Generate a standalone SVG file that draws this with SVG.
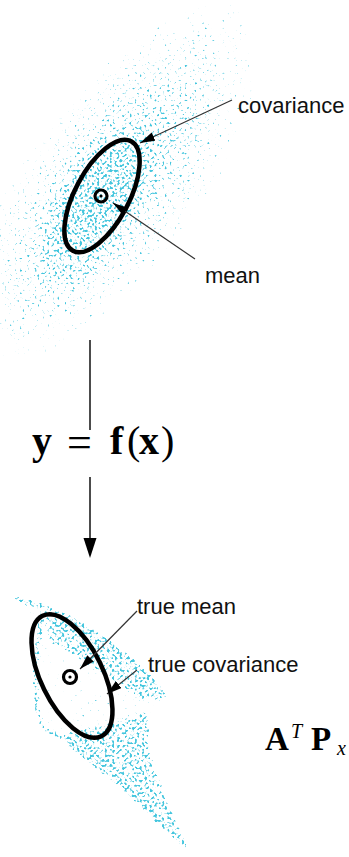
<svg xmlns="http://www.w3.org/2000/svg" width="349" height="857" viewBox="0 0 349 857">
  <defs>
    <style>
      .lbl{font-family:"Liberation Sans",Arial,sans-serif;font-size:22px;fill:#111}
      .mb{font-family:"Liberation Serif","Times New Roman",serif;font-weight:bold;fill:#000}
      .mr{font-family:"Liberation Serif","Times New Roman",serif;fill:#000}
      .mi{font-family:"Liberation Serif","Times New Roman",serif;font-style:italic;fill:#000}
      .ell{fill:none;stroke:#000;stroke-width:4.5}
      .ring{fill:none;stroke:#000;stroke-width:3.2}
      .lead{stroke:#333;stroke-width:1.2;fill:none}
      .dens{fill:#fff}
      .edge{fill:none;stroke:#fff}
    </style>
    <marker id="ah" markerUnits="userSpaceOnUse" markerWidth="16" markerHeight="10" refX="15" refY="4.5" orient="auto">
      <path d="M0,0 L15,4.5 L0,9 Z" fill="#000"/>
    </marker>
    <radialGradient id="gTop">
      <stop offset="0" stop-color="#fff" stop-opacity="1"/>
      <stop offset="0.3" stop-color="#fff" stop-opacity="0.93"/>
      <stop offset="0.55" stop-color="#fff" stop-opacity="0.87"/>
      <stop offset="0.8" stop-color="#fff" stop-opacity="0.82"/>
      <stop offset="1" stop-color="#fff" stop-opacity="0.76"/>
    </radialGradient>
    <radialGradient id="gCore">
      <stop offset="0" stop-color="#fff" stop-opacity="1"/>
      <stop offset="0.6" stop-color="#fff" stop-opacity="0.6"/>
      <stop offset="1" stop-color="#fff" stop-opacity="0"/>
    </radialGradient>
    <filter id="spk" filterUnits="userSpaceOnUse" x="0" y="0" width="349" height="857" color-interpolation-filters="sRGB">
      <feGaussianBlur in="SourceAlpha" stdDeviation="1.5" result="d"/>
      <feTurbulence type="fractalNoise" baseFrequency="0.4" numOctaves="1" seed="5" result="n"/>
      <feColorMatrix in="n" type="matrix" values="0 0 0 0 0  0 0 0 0 0  0 0 0 0 0  0 0 0 1 0" result="na"/>
      <feComposite in="na" in2="d" operator="arithmetic" k1="0" k2="1" k3="1" k4="-1" result="s"/>
      <feComponentTransfer in="s" result="t">
        <feFuncA type="linear" slope="8" intercept="-4"/>
      </feComponentTransfer>
      <feFlood flood-color="#45c6de" result="c"/>
      <feComposite in="c" in2="t" operator="in"/>
    </filter>
  </defs>

  <g id="cloud-top" filter="url(#spk)">
    <ellipse cx="112" cy="185" rx="220" ry="88" transform="rotate(-53 112 185)" fill="url(#gTop)"/>
    <ellipse cx="92" cy="210" rx="100" ry="48" transform="rotate(-60 92 210)" fill="url(#gCore)"/>
  </g>

  <g id="cloud-bottom" filter="url(#spk)">
    <path class="dens" fill-opacity="0.78" d="M14,598 C40,604 60,610 80,622 C110,640 140,665 167,698 L150,720 C140,760 170,800 186,848 C150,810 100,770 70,745 C40,730 30,700 32,660 C33,640 40,620 14,598 Z"/>
    <path class="dens" fill-opacity="0.85" d="M62,735 L150,712 C150,760 170,800 190,848 L182,850 C140,805 100,772 62,745 Z"/>
    <path class="dens" fill-opacity="0.88" d="M45,612 C60,612 90,628 120,650 C140,668 160,690 165,700 L140,700 C115,680 80,660 50,640 Z"/>
    <path class="edge" stroke-width="7" d="M14,598 C40,604 70,614 100,636 C130,655 150,675 167,698"/>
    <path class="edge" stroke-width="4" d="M14,598 C30,603 45,606 60,612"/>
    <path class="edge" stroke-width="6" d="M45,612 C34,640 30,690 40,722 C48,736 62,740 80,742"/>
    <path class="edge" stroke-width="8" stroke-opacity="0.93" d="M70,742 C100,770 140,800 185,848"/>
  </g>

  <g id="cov-top">
    <ellipse class="ell" cx="102" cy="196" rx="62" ry="27" transform="rotate(-62 102 196)"/>
  </g>
  <g id="mean-top">
    <circle class="ring" cx="101" cy="196" r="6"/>
    <circle cx="101" cy="196" r="1.6" fill="#000"/>
  </g>

  <g id="cov-bottom">
    <ellipse class="ell" cx="72" cy="676" rx="67" ry="31" transform="rotate(64 72 676)"/>
  </g>
  <g id="mean-bottom">
    <circle class="ring" cx="70" cy="677" r="6.5"/>
    <circle cx="70" cy="677" r="1.6" fill="#000"/>
  </g>

  <g id="connectors">
    <line class="lead" x1="232" y1="100" x2="140" y2="143" marker-end="url(#ah)"/>
    <line class="lead" x1="195" y1="259" x2="113" y2="203" marker-end="url(#ah)"/>
    <line class="lead" x1="137" y1="611" x2="80" y2="669" marker-end="url(#ah)"/>
    <line class="lead" x1="137" y1="670" x2="107" y2="694" marker-end="url(#ah)"/>
    <line x1="90" y1="340" x2="90" y2="430" stroke="#111" stroke-width="1.5"/>
    <line x1="90" y1="477" x2="90" y2="542" stroke="#111" stroke-width="1.5"/>
    <path d="M83.5,538 L96.5,538 L90,558 Z" fill="#000"/>
  </g>

  <g id="labels">
    <text class="lbl" x="238" y="113">covariance</text>
    <text class="lbl" x="205" y="283">mean</text>
    <text class="lbl" x="137" y="614">true mean</text>
    <text class="lbl" x="148" y="672">true covariance</text>
  </g>

  <g id="formula" font-size="40">
    <text y="454"><tspan class="mb" x="32">y</tspan><tspan class="mr" x="67" y="457" font-size="44">=</tspan><tspan class="mb" x="110" y="454">f</tspan><tspan class="mr" x="127">(</tspan><tspan class="mb" x="139">x</tspan><tspan class="mr" x="161">)</tspan></text>
  </g>

  <g id="atpx">
    <text class="mb" x="265" y="750" font-size="33">A</text>
    <text class="mi" x="291" y="738" font-size="20">T</text>
    <text class="mb" x="311" y="750" font-size="33">P</text>
    <text class="mi" x="337" y="755" font-size="20">x</text>
  </g>
</svg>
